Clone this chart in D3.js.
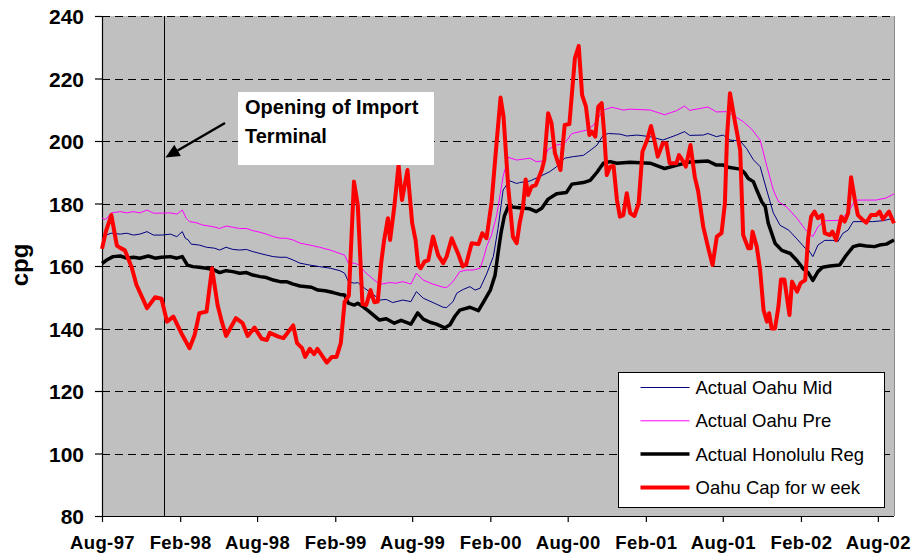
<!DOCTYPE html>
<html>
<head>
<meta charset="utf-8">
<script src="https://cdn.jsdelivr.net/npm/d3@7"></script>
<style>
  body { margin: 0; background: #fff; }
  svg { display: block; font-family: "Liberation Sans", Arial, sans-serif; }
</style>
</head>
<body>
<svg class="chart" width="916" height="554"></svg>
<script>
// weekly prices as [date, cents per gallon]
var oahuMid = [
  ["1997-08-01",168.5],["1997-08-10",169.9],["1997-08-23",170.5],["1997-09-13",170.2],["1997-09-28",170.5],
  ["1997-10-14",169.9],["1997-10-29",170.2],["1997-11-15",171.0],["1997-11-30",169.9],["1997-12-19",169.9],
  ["1998-01-09",170.2],["1998-01-24",169.4],["1998-02-06",171.0],["1998-02-13",168.9],["1998-02-20",168.3],
  ["1998-02-27",167.0],["1998-03-18",166.7],["1998-04-04",166.0],["1998-04-23",165.7],["1998-05-05",165.1],
  ["1998-05-20",166.0],["1998-06-05",165.3],["1998-06-21",165.1],["1998-07-07",165.3],["1998-07-22",164.6],
  ["1998-08-08",164.0],["1998-08-23",163.5],["1998-09-08",163.0],["1998-09-24",162.8],["1998-10-09",162.8],
  ["1998-10-25",161.9],["1998-11-10",160.9],["1998-12-03",160.3],["1998-12-26",159.8],["1999-01-20",159.3],
  ["1999-02-12",158.5],["1999-02-23",157.7],["1999-03-04",155.0],["1999-03-18",154.5],["1999-03-26",154.7],
  ["1999-04-11",152.9],["1999-05-08",150.2],["1999-05-16",149.1],["1999-06-01",149.3],["1999-06-16",148.3],
  ["1999-07-10",149.1],["1999-07-29",148.6],["1999-08-11",151.8],["1999-08-27",149.7],["1999-09-19",148.3],
  ["1999-10-13",146.8],["1999-10-21",146.7],["1999-11-05",148.6],["1999-11-14",151.3],["1999-11-29",152.5],
  ["1999-12-15",153.4],["1999-12-27",152.3],["2000-01-08",152.9],["2000-01-24",157.7],["2000-02-08",163.0],
  ["2000-02-19",172.0],["2000-03-02",184.3],["2000-03-17",187.3],["2000-04-03",186.4],["2000-04-10",186.7],
  ["2000-05-04",187.2],["2000-05-27",188.6],["2000-06-20",190.2],["2000-07-06",191.8],["2000-07-25",194.5],
  ["2000-08-14",195.0],["2000-09-07",195.4],["2000-09-27",197.4],["2000-10-09",198.7],["2000-10-24",201.9],
  ["2000-11-05",202.4],["2000-12-02",202.2],["2000-12-18",201.6],["2001-01-11",201.9],["2001-02-11",201.4],
  ["2001-03-13",200.3],["2001-04-14",201.9],["2001-05-03",203.0],["2001-05-15",201.8],["2001-06-16",201.9],
  ["2001-06-27",202.4],["2001-07-17",201.4],["2001-08-02",201.9],["2001-08-18",200.3],["2001-09-11",200.0],
  ["2001-09-26",197.6],["2001-10-12",194.0],["2001-10-28",191.8],["2001-11-13",184.0],["2001-11-28",177.0],
  ["2001-12-14",173.0],["2002-01-03",171.5],["2002-01-23",168.6],["2002-02-11",165.7],["2002-02-18",165.3],
  ["2002-03-01",163.0],["2002-03-13",166.7],["2002-03-29",168.2],["2002-04-17",168.2],["2002-04-29",167.8],
  ["2002-05-11",170.5],["2002-05-23",171.5],["2002-06-04",174.2],["2002-06-27",174.2],["2002-07-20",174.2],
  ["2002-08-13",174.5],["2002-09-08",175.3]
];

var oahuPre = [
  ["1997-08-01",175.3],["1997-08-10",174.9],["1997-08-23",177.0],["1997-09-13",177.4],["1997-09-28",177.0],
  ["1997-10-14",177.4],["1997-10-29",177.0],["1997-11-15",177.9],["1997-11-30",176.9],["1997-12-19",176.9],
  ["1998-01-09",177.0],["1998-01-24",176.6],["1998-02-06",177.9],["1998-02-15",175.3],["1998-02-23",174.2],
  ["1998-03-10",173.9],["1998-03-26",173.1],["1998-04-19",172.6],["1998-05-05",172.0],["1998-05-20",172.8],
  ["1998-06-05",172.4],["1998-06-21",172.0],["1998-07-07",172.0],["1998-07-22",171.3],["1998-08-08",170.8],
  ["1998-08-23",170.2],["1998-09-08",169.4],["1998-09-24",168.9],["1998-10-09",168.9],["1998-10-25",168.3],
  ["1998-11-10",167.3],["1998-12-03",166.7],["1998-12-26",166.0],["1999-01-20",165.1],["1999-02-12",164.0],
  ["1999-02-23",163.5],["1999-03-04",160.9],["1999-03-18",160.9],["1999-03-30",160.3],["1999-04-11",158.2],
  ["1999-05-08",155.0],["1999-05-20",154.2],["1999-06-09",154.7],["1999-06-24",154.5],["1999-07-10",155.0],
  ["1999-07-29",154.2],["1999-08-11",157.7],["1999-08-27",155.5],["1999-09-19",154.2],["1999-10-13",153.2],
  ["1999-10-21",153.1],["1999-11-05",155.0],["1999-11-21",158.2],["1999-12-07",158.7],["1999-12-22",158.7],
  ["2000-01-08",159.3],["2000-01-17",163.0],["2000-01-24",166.5],["2000-02-04",170.0],["2000-02-16",176.3],
  ["2000-03-02",188.6],["2000-03-14",194.8],["2000-04-03",193.9],["2000-05-04",194.5],["2000-05-19",193.4],
  ["2000-06-04",193.6],["2000-06-16",197.3],["2000-07-06",198.7],["2000-07-25",199.3],["2000-08-11",202.4],
  ["2000-09-15",203.5],["2000-10-01",205.1],["2000-10-24",209.9],["2000-11-13",210.8],["2000-12-10",209.9],
  ["2000-12-26",210.2],["2001-02-11",209.9],["2001-03-17",208.4],["2001-04-14",209.7],["2001-05-03",211.2],
  ["2001-05-15",209.8],["2001-06-08",210.4],["2001-06-27",210.9],["2001-07-17",209.3],["2001-08-10",209.4],
  ["2001-08-25",208.3],["2001-09-18",206.2],["2001-10-08",203.8],["2001-10-28",200.3],["2001-11-13",191.8],
  ["2001-11-28",184.3],["2001-12-10",180.6],["2001-12-30",178.8],["2002-01-23",175.2],["2002-02-11",171.7],
  ["2002-03-01",169.4],["2002-03-13",172.6],["2002-03-29",174.5],["2002-05-03",174.6],["2002-05-23",177.2],
  ["2002-06-09",181.1],["2002-07-05",181.1],["2002-07-28",181.1],["2002-08-21",181.8],["2002-09-08",183.1]
];

var honoluluReg = [
  ["1997-08-01",160.8],["1997-08-12",161.9],["1997-08-27",163.0],["1997-09-13",163.2],["1997-09-28",162.5],
  ["1997-10-14",162.8],["1997-10-29",162.5],["1997-11-18",163.2],["1997-12-04",162.5],["1997-12-19",162.8],
  ["1998-01-09",163.0],["1998-01-24",162.5],["1998-02-06",163.0],["1998-02-18",160.3],["1998-03-03",159.8],
  ["1998-03-18",159.6],["1998-04-04",159.3],["1998-04-19",158.9],["1998-05-05",157.9],["1998-05-20",158.5],
  ["1998-06-05",158.2],["1998-06-21",157.7],["1998-07-07",157.9],["1998-07-22",157.1],["1998-08-08",156.6],
  ["1998-08-23",156.3],["1998-09-08",155.5],["1998-09-24",155.0],["1998-10-09",155.0],["1998-10-25",154.2],
  ["1998-11-10",153.6],["1998-12-07",153.2],["1998-12-22",152.3],["1999-01-08",152.1],["1999-01-27",151.5],
  ["1999-02-12",150.9],["1999-02-23",150.7],["1999-03-04",148.1],["1999-03-18",147.5],["1999-03-26",148.1],
  ["1999-04-07",147.0],["1999-04-22",145.4],["1999-05-16",142.7],["1999-06-01",143.1],["1999-06-20",141.7],
  ["1999-07-06",142.6],["1999-07-29",141.4],["1999-08-14",145.0],["1999-08-27",143.0],["1999-09-12",142.0],
  ["1999-09-27",141.4],["1999-10-17",140.2],["1999-10-29",141.2],["1999-11-10",144.0],["1999-11-21",145.9],
  ["1999-12-15",146.8],["2000-01-04",145.7],["2000-01-15",148.3],["2000-02-01",152.3],["2000-02-12",157.0],
  ["2000-02-19",164.0],["2000-02-26",170.5],["2000-03-05",176.0],["2000-03-14",179.0],["2000-04-03",178.7],
  ["2000-05-04",178.3],["2000-05-19",177.4],["2000-06-01",178.5],["2000-06-16",181.4],["2000-07-06",183.1],
  ["2000-07-29",183.5],["2000-08-11",186.2],["2000-09-07",186.7],["2000-09-23",187.4],["2000-10-09",190.0],
  ["2000-10-24",192.9],["2000-11-09",193.4],["2000-11-25",192.9],["2000-12-26",193.2],["2001-02-11",192.9],
  ["2001-03-05",191.8],["2001-03-17",191.2],["2001-04-14",192.2],["2001-05-15",193.3],["2001-06-27",193.6],
  ["2001-07-17",192.3],["2001-08-02",192.3],["2001-08-14",191.6],["2001-09-11",191.0],["2001-09-22",189.7],
  ["2001-09-30",188.0],["2001-10-12",187.0],["2001-10-20",184.3],["2001-11-01",180.5],["2001-11-09",179.0],
  ["2001-11-16",173.7],["2001-12-02",167.3],["2001-12-18",165.0],["2002-01-07",164.0],["2002-01-23",161.7],
  ["2002-02-07",159.0],["2002-02-18",157.9],["2002-03-01",155.4],["2002-03-13",158.2],["2002-03-24",159.6],
  ["2002-04-10",160.0],["2002-05-03",160.3],["2002-05-19",163.5],["2002-06-04",166.2],["2002-06-19",166.7],
  ["2002-07-05",166.4],["2002-07-24",166.2],["2002-08-05",166.7],["2002-08-21",167.0],["2002-09-08",168.3]
];

var oahuCap = [
  ["1997-08-01",165.5],["1997-08-10",171.0],["1997-08-23",176.3],["1997-09-05",166.5],["1997-09-13",165.8],
  ["1997-09-24",165.0],["1997-10-10",159.5],["1997-10-21",154.0],["1997-11-15",146.5],["1997-12-04",150.0],
  ["1997-12-19",149.5],["1998-01-01",142.2],["1998-01-16",143.8],["1998-02-06",137.9],["1998-02-23",133.7],
  ["1998-03-07",137.9],["1998-03-18",144.9],["1998-04-04",145.4],["1998-04-17",159.3],["1998-04-30",147.5],
  ["1998-05-09",142.7],["1998-05-20",137.6],["1998-06-12",143.3],["1998-06-28",141.7],["1998-07-10",137.6],
  ["1998-07-26",140.3],["1998-08-12",136.7],["1998-08-24",136.3],["1998-08-31",138.6],["1998-09-20",137.4],
  ["1998-10-02",136.9],["1998-10-25",141.0],["1998-11-03",135.3],["1998-11-15",133.7],["1998-11-22",130.9],
  ["1998-12-03",133.5],["1998-12-13",131.8],["1998-12-21",133.5],["1999-01-12",129.1],["1999-01-24",130.9],
  ["1999-02-04",130.9],["1999-02-14",135.3],["1999-02-23",148.5],["1999-03-05",150.5],["1999-03-17",187.0],
  ["1999-03-26",179.5],["1999-04-06",147.8],["1999-04-15",147.5],["1999-04-25",152.3],["1999-05-04",148.4],
  ["1999-05-12",148.6],["1999-05-20",160.9],["1999-05-27",168.3],["1999-06-05",175.3],["1999-06-10",168.3],
  ["1999-06-20",179.0],["1999-06-30",192.3],["1999-07-08",181.1],["1999-07-21",190.7],["1999-08-01",173.7],
  ["1999-08-09",168.3],["1999-08-15",160.3],["1999-08-21",159.3],["1999-08-30",161.4],["1999-09-08",161.9],
  ["1999-09-19",169.4],["1999-10-01",163.5],["1999-10-13",160.9],["1999-10-21",163.0],["1999-11-02",168.9],
  ["1999-11-10",166.2],["1999-11-17",164.0],["1999-11-28",159.9],["1999-12-06",160.5],["1999-12-19",167.3],
  ["2000-01-04",167.0],["2000-01-13",170.5],["2000-01-23",168.9],["2000-02-04",180.5],["2000-02-16",200.0],
  ["2000-02-25",213.9],["2000-03-03",207.8],["2000-03-14",185.4],["2000-03-25",169.4],["2000-04-03",167.3],
  ["2000-04-10",173.7],["2000-04-18",179.0],["2000-04-24",187.7],["2000-04-30",182.7],["2000-05-08",185.4],
  ["2000-05-18",185.9],["2000-06-01",190.7],["2000-06-07",193.9],["2000-06-16",208.9],["2000-06-24",205.7],
  ["2000-07-02",196.1],["2000-07-15",190.7],["2000-07-25",205.1],["2000-08-05",205.4],["2000-08-18",226.5],
  ["2000-08-27",230.4],["2000-09-04",214.7],["2000-09-13",211.0],["2000-09-21",201.9],["2000-09-27",203.0],
  ["2000-10-05",201.4],["2000-10-12",211.0],["2000-10-20",212.1],["2000-10-26",202.4],["2000-11-01",189.1],
  ["2000-11-09",191.8],["2000-11-17",192.0],["2000-11-25",181.1],["2000-12-02",175.8],["2000-12-10",176.3],
  ["2000-12-18",183.3],["2000-12-26",176.9],["2001-01-05",176.0],["2001-01-15",180.0],["2001-01-24",196.6],
  ["2001-02-04",200.3],["2001-02-13",204.8],["2001-02-20",200.9],["2001-03-01",195.0],["2001-03-13",199.3],
  ["2001-03-21",199.3],["2001-03-29",192.9],["2001-04-14",192.9],["2001-04-20",195.5],["2001-04-28",193.9],
  ["2001-05-06",191.8],["2001-05-17",198.7],["2001-05-27",188.6],["2001-06-04",184.0],["2001-06-16",172.6],
  ["2001-06-27",166.2],["2001-07-08",160.3],["2001-07-18",169.4],["2001-07-29",170.5],["2001-08-06",180.0],
  ["2001-08-11",201.4],["2001-08-18",215.3],["2001-08-29",206.7],["2001-09-11",197.1],["2001-09-18",169.9],
  ["2001-09-30",165.7],["2001-10-06",165.7],["2001-10-10",171.0],["2001-10-20",166.2],["2001-10-28",158.7],
  ["2001-11-05",145.9],["2001-11-13",142.2],["2001-11-18",144.9],["2001-11-24",140.0],["2001-12-02",140.0],
  ["2001-12-10",147.0],["2001-12-16",155.7],["2001-12-24",155.7],["2002-01-05",144.3],["2002-01-11",155.0],
  ["2002-01-23",151.8],["2002-01-31",154.5],["2002-02-11",155.5],["2002-02-18",168.9],["2002-02-25",175.8],
  ["2002-03-05",177.4],["2002-03-13",175.3],["2002-03-23",176.3],["2002-03-29",170.5],["2002-04-10",169.9],
  ["2002-04-16",171.0],["2002-04-25",168.3],["2002-05-07",175.8],["2002-05-15",174.2],["2002-05-23",176.9],
  ["2002-05-30",188.4],["2002-06-08",181.1],["2002-06-15",176.3],["2002-06-27",174.7],["2002-07-05",173.9],
  ["2002-07-16",176.3],["2002-07-28",176.3],["2002-08-05",177.4],["2002-08-13",175.0],["2002-08-27",177.4],
  ["2002-09-08",173.7]
];

var seriesNames = ["Actual Oahu Mid", "Actual Oahu Pre", "Actual Honolulu Reg", "Oahu Cap for w eek"];
var xTickLabels = ["Aug-97","Feb-98","Aug-98","Feb-99","Aug-99","Feb-00","Aug-00","Feb-01","Aug-01","Feb-02","Aug-02"];
var yTicks = [80, 100, 120, 140, 160, 180, 200, 220, 240];
var dateRange = ["1997-08-01", "2002-09-08"];
var terminalOpening = "1997-12-26";
var noteLines = ["Opening of Import", "Terminal"];

var parseDay = d3.timeParse("%Y-%m-%d"),
    parseTick = d3.timeParse("%b-%y");

var svg = d3.select("svg.chart"),
    plotL = 102, plotR = 894, plotT = 16, plotB = 516;

var xScale = d3.scaleTime().domain(dateRange.map(parseDay)).range([plotL, plotR]),
    yScale = d3.scaleLinear().domain([80, 240]).range([plotB, plotT]);

svg.append("rect").attr("width", 916).attr("height", 554).attr("fill", "#fff");

// plot area
svg.append("rect")
  .attr("x", plotL).attr("y", plotT)
  .attr("width", plotR - plotL).attr("height", plotB - plotT)
  .attr("fill", "#c0c0c0");
svg.append("line")
  .attr("x1", plotR + 0.5).attr("x2", plotR + 0.5).attr("y1", plotT).attr("y2", plotB)
  .attr("stroke", "#8c8c8c").attr("stroke-width", 1);

// dashed gridlines
svg.append("g").selectAll("line")
  .data(yTicks.filter(function(d) { return d > 80; }))
  .enter().append("line")
  .attr("x1", plotL).attr("x2", plotR)
  .attr("y1", function(d) { return Math.round(yScale(d)) + 0.5; })
  .attr("y2", function(d) { return Math.round(yScale(d)) + 0.5; })
  .attr("stroke", "#000").attr("stroke-width", 1)
  .attr("stroke-dasharray", "8,5");

// axes
var yAxis = d3.axisLeft(yScale).tickValues(yTicks).tickSize(7).tickPadding(11);
var xAxis = d3.axisBottom(xScale).tickValues(xTickLabels.map(parseTick))
  .tickSize(6).tickPadding(14).tickFormat(d3.timeFormat("%b-%y"));

var gy = svg.append("g").attr("transform", "translate(" + plotL + ",0)").call(yAxis);
var gx = svg.append("g").attr("transform", "translate(0," + plotB + ")").call(xAxis);

gy.select(".domain").attr("d", "M0.5," + plotT + "V" + plotB);
gx.select(".domain").attr("d", "M" + plotL + ",0.5H" + plotR);
svg.selectAll(".domain").attr("stroke", "#000").attr("stroke-width", 1.2);
svg.selectAll(".tick line").attr("stroke", "#000").attr("stroke-width", 1.2);

gy.selectAll("text")
  .attr("font-size", 21).attr("font-weight", "bold").attr("fill", "#000")
  .attr("font-family", "Liberation Sans, Arial, sans-serif")
  .attr("dy", "0.36em");
gx.selectAll("text")
  .attr("font-size", 18.5).attr("font-weight", "bold").attr("fill", "#000")
  .attr("font-family", "Liberation Sans, Arial, sans-serif")
  .attr("letter-spacing", "0.4px")
  .attr("dy", "0.71em");

svg.append("text")
  .attr("transform", "translate(28,265) rotate(-90)")
  .attr("text-anchor", "middle")
  .attr("font-size", 24).attr("font-weight", "bold")
  .text("cpg");

// terminal opening marker
var xt = Math.round(xScale(parseDay(terminalOpening))) + 0.5;
svg.append("line")
  .attr("x1", xt).attr("x2", xt).attr("y1", plotT).attr("y2", plotB)
  .attr("stroke", "#000").attr("stroke-width", 1);

// series
var line = d3.line()
  .x(function(d) { return xScale(parseDay(d[0])); })
  .y(function(d) { return yScale(d[1]); });

var series = [
  { data: oahuMid, color: "#000080", width: 1 },
  { data: oahuPre, color: "#ff00ff", width: 1 },
  { data: honoluluReg, color: "#000", width: 3.5 },
  { data: oahuCap, color: "#ff0000", width: 4 }
];

svg.append("g").selectAll("path")
  .data(series)
  .enter().append("path")
  .attr("d", function(s) { return line(s.data); })
  .attr("fill", "none")
  .attr("stroke", function(s) { return s.color; })
  .attr("stroke-width", function(s) { return s.width; })
  .attr("stroke-linejoin", "round");

// annotation
svg.append("rect")
  .attr("x", 238).attr("y", 92).attr("width", 196).attr("height", 73)
  .attr("fill", "#fff");
svg.append("g").selectAll("text")
  .data(noteLines)
  .enter().append("text")
  .attr("x", 245).attr("y", function(d, i) { return 114 + i * 29; })
  .attr("font-size", 20).attr("font-weight", "bold")
  .text(function(d) { return d; });

// arrow pointing at the terminal line
var tail = [225, 123], tip = [xt + 1, 157.5];
var ang = Math.atan2(tip[1] - tail[1], tip[0] - tail[0]),
    headLen = 14, headHalf = 6.5;
var base = [tip[0] - headLen * Math.cos(ang), tip[1] - headLen * Math.sin(ang)];
svg.append("line")
  .attr("x1", tail[0]).attr("y1", tail[1]).attr("x2", base[0]).attr("y2", base[1])
  .attr("stroke", "#000").attr("stroke-width", 2.5);
svg.append("path")
  .attr("d", "M" + tip + "L" + [base[0] + headHalf * Math.sin(ang), base[1] - headHalf * Math.cos(ang)] +
             "L" + [base[0] - headHalf * Math.sin(ang), base[1] + headHalf * Math.cos(ang)] + "Z")
  .attr("fill", "#000");

// legend
var legend = svg.append("g").attr("transform", "translate(618.5,372.5)");
legend.append("rect")
  .attr("width", 266).attr("height", 135)
  .attr("fill", "#fff").attr("stroke", "#000").attr("stroke-width", 1);
var item = legend.selectAll("g.item")
  .data(series)
  .enter().append("g").attr("class", "item")
  .attr("transform", function(d, i) { return "translate(0," + (15 + i * 33.3) + ")"; });
item.append("line")
  .attr("x1", 22).attr("x2", 71)
  .attr("stroke", function(s) { return s.color; })
  .attr("stroke-width", function(s) { return s.width; });
item.append("text")
  .attr("x", 77).attr("dy", "0.35em")
  .attr("font-size", 18.5)
  .text(function(d, i) { return seriesNames[i]; });
</script>
</body>
</html>
